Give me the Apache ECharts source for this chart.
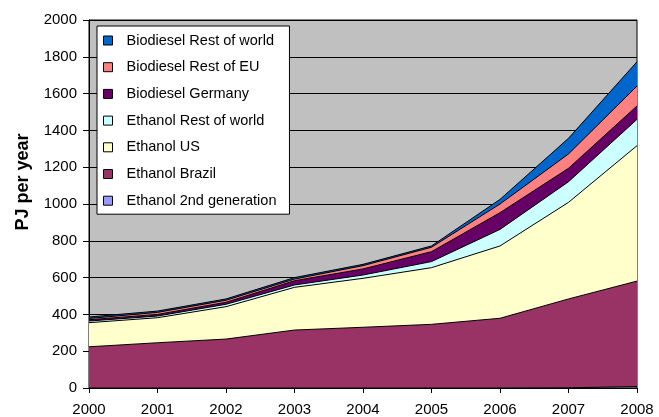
<!DOCTYPE html>
<html>
<head>
<meta charset="utf-8">
<script src="https://cdn.jsdelivr.net/npm/echarts/dist/echarts.min.js"></script>
<style>
  html, body { margin: 0; padding: 0; background: #ffffff; }
  #chart { width: 659px; height: 417px; }
</style>
</head>
<body>
<div id="chart"></div>
<script>
// Biofuel production, PJ per year
const years = ['2000', '2001', '2002', '2003', '2004', '2005', '2006', '2007', '2008'];

const ethanol2ndGen      = [0, 0, 0, 0, 0, 0, 0, 1, 8];
const ethanolBrazil      = [224, 246, 266, 315, 330, 346, 379, 483, 573];
const ethanolUS          = [131, 136, 176, 232, 266, 308, 393, 525, 736];
const ethanolRestOfWorld = [9, 9, 13, 13, 18, 33, 90, 112, 143];
const biodieselGermany   = [7, 9, 11, 23, 33, 54, 91, 73, 73];
const biodieselRestOfEU  = [7, 11, 11, 9, 18, 24, 47, 78, 108];
const biodieselRestOfWorld = [8, 7, 7, 8, 7, 7, 25, 85, 132];

const yTicks = { min: 0, max: 2000, step: 200 };

const FONT = "'Liberation Sans', Arial, sans-serif";

// stacked from the bottom up
const layers = [
  { name: 'Ethanol 2nd generation', data: ethanol2ndGen,        color: '#9999FF' },
  { name: 'Ethanol Brazil',         data: ethanolBrazil,        color: '#993366' },
  { name: 'Ethanol US',             data: ethanolUS,            color: '#FFFFCC' },
  { name: 'Ethanol Rest of world',  data: ethanolRestOfWorld,   color: '#CCFFFF' },
  { name: 'Biodiesel Germany',      data: biodieselGermany,     color: '#660066' },
  { name: 'Biodiesel Rest of EU',   data: biodieselRestOfEU,    color: '#FF8080' },
  { name: 'Biodiesel Rest of world',data: biodieselRestOfWorld, color: '#0066CC' }
];

const chart = echarts.init(document.getElementById('chart'), null, { renderer: 'canvas' });

chart.setOption({
  animation: false,
  backgroundColor: '#ffffff',
  grid: {
    left: 89, right: 22, top: 20, bottom: 29,
    show: true,
    backgroundColor: '#C0C0C0',
    borderColor: '#000000',
    borderWidth: 1
  },
  legend: {
    orient: 'vertical',
    left: 97,
    top: 26,
    backgroundColor: '#ffffff',
    borderColor: '#000000',
    borderWidth: 1,
    borderRadius: 0,
    padding: [7, 13, 6, 6],
    itemWidth: 9,
    itemHeight: 9,
    itemGap: 11.7,
    icon: 'rect',
    itemStyle: { borderColor: '#000000', borderWidth: 1 },
    textStyle: { fontFamily: FONT, fontSize: 14.5, color: '#000000', lineHeight: 14, padding: [0, 0, 0, 9] },
    data: layers.map(l => l.name).reverse(),
    selectedMode: false
  },
  xAxis: {
    type: 'category',
    data: years,
    boundaryGap: false,
    axisLine: { show: true, lineStyle: { color: '#000000', width: 1 } },
    axisTick: { show: true, inside: false, length: 5, lineStyle: { color: '#000000' } },
    axisLabel: { color: '#000000', fontFamily: FONT, fontSize: 15, margin: 14, interval: 0 },
    splitLine: { show: false }
  },
  yAxis: {
    type: 'value',
    min: yTicks.min,
    max: yTicks.max,
    interval: yTicks.step,
    axisLine: { show: true, lineStyle: { color: '#000000', width: 1 } },
    axisTick: { show: true, inside: false, length: 6, lineStyle: { color: '#000000' } },
    axisLabel: { color: '#000000', fontFamily: FONT, fontSize: 15, margin: 12, formatter: v => String(v) },
    splitLine: { show: true, lineStyle: { color: '#000000', width: 1 } }
  },
  graphic: [{
    type: 'text',
    x: 23,
    y: 182,
    rotation: Math.PI / 2,
    style: {
      text: 'PJ per year',
      fontFamily: FONT,
      fontSize: 18,
      fontWeight: 'bold',
      fill: '#000000',
      align: 'center',
      verticalAlign: 'middle'
    }
  }],
  series: layers.map(l => ({
    name: l.name,
    type: 'line',
    stack: 'fuel',
    data: l.data,
    symbol: 'none',
    smooth: false,
    color: l.color,
    itemStyle: { color: l.color },
    lineStyle: { color: '#000000', width: 1 },
    areaStyle: { color: l.color, opacity: 1 },
    emphasis: { disabled: true }
  }))
});
</script>
</body>
</html>
